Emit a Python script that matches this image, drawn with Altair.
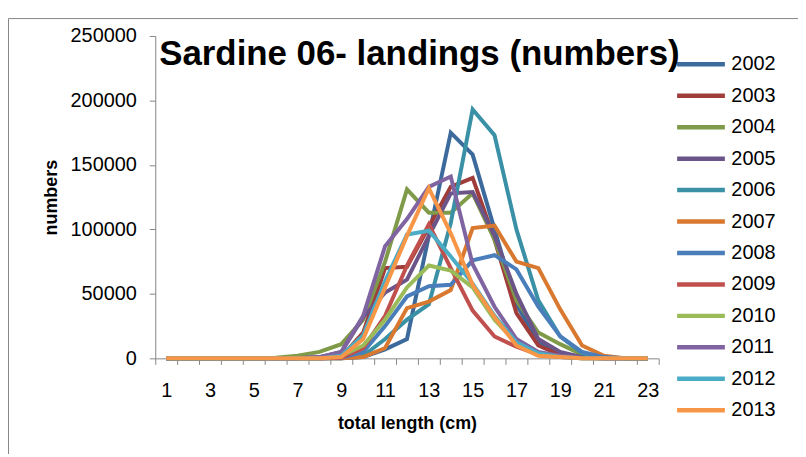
import altair as alt
import pandas as pd

lengths = list(range(1, 24))
years = ["2002", "2003", "2004", "2005", "2006", "2007", "2008", "2009", "2010", "2011", "2012", "2013"]

v2002 = [0,0,0,0,0,0,0,0,0,1000,7000,15000,95000,175000,158000,100000,42000,12000,3000,500,0,0,0]
v2003 = [0,0,0,0,0,0,0,0,1000,20000,70000,71000,102000,133000,140000,92000,35000,10000,2500,500,0,0,0]
v2004 = [0,0,0,0,0,500,2000,5000,11000,30000,75000,131000,113000,113000,128000,92000,45000,20000,11000,3000,500,0,0]
v2005 = [0,0,0,0,0,0,0,1000,5000,32000,51000,61000,95000,128000,129000,95000,50000,15000,5000,1000,0,0,0]
v2006 = [0,0,0,0,0,0,0,0,0,2000,15000,30000,42000,105000,193000,173000,100000,45000,17000,4000,500,0,0]
v2007 = [0,0,0,0,0,0,0,0,0,1000,8000,39000,44000,53000,101000,103000,75000,70000,38000,10000,2000,0,0]
v2008 = [0,0,0,0,0,0,0,0,500,5000,25000,48000,56000,57000,76000,80000,69000,40000,17000,5000,1000,0,0]
v2009 = [0,0,0,0,0,0,0,0,500,8000,33000,72000,104000,70000,37000,17000,9000,3000,1000,0,0,0,0]
v2010 = [0,0,0,0,0,0,0,0,2000,10000,30000,55000,72000,68000,55000,30000,12000,4000,1500,0,0,0,0]
v2011 = [0,0,0,0,0,0,0,1000,5000,33000,87000,108000,133000,141000,73000,40000,15000,5000,2000,500,0,0,0]
v2012 = [0,0,0,0,0,0,0,0,2000,18000,60000,96000,99000,79000,58000,33000,12500,4000,1000,0,0,0,0]
v2013 = [0,0,0,0,0,0,0,0,1000,15000,55000,95000,132000,97000,57000,32000,10000,2000,1000,0,0,0,0]

series = [v2002, v2003, v2004, v2005, v2006, v2007, v2008, v2009, v2010, v2011, v2012, v2013]
colors = ["#3D6A9C", "#A03C39", "#7F9A48", "#6B5488", "#3A91A6", "#D9782F",
          "#4A7EBB", "#C0504D", "#9BBB59", "#8064A2", "#4BACC6", "#F79646"]

rows = []
for y, vals in zip(years, series):
    for L, v in zip(lengths, vals):
        rows.append({"length": L, "year": y, "numbers": v})
df = pd.DataFrame(rows)

W, H = 506, 324
FONT = "Liberation Sans"

lines = alt.Chart(df).mark_line(strokeWidth=4, strokeJoin="miter").encode(
    x=alt.X("length:O", scale=alt.Scale(type="band", paddingInner=0, paddingOuter=0),
            axis=alt.Axis(title="total length (cm)", labelAngle=0, tickBand="extent",
                          labelExpr="datum.value % 2 == 1 ? datum.label : ''",
                          domainColor="#868686", tickColor="#868686", tickSize=6,
                          labelPadding=16, labelFontSize=20, labelFont=FONT, labelColor="#000",
                          titleFont=FONT, titleFontSize=18, titleFontWeight="bold",
                          titleColor="#000", titlePadding=14, grid=False)),
    y=alt.Y("numbers:Q", scale=alt.Scale(domain=[0, 250000], nice=False),
            axis=alt.Axis(title="numbers", values=[0, 50000, 100000, 150000, 200000, 250000],
                          format="d", domainColor="#868686", tickColor="#868686", tickSize=6,
                          labelPadding=13, labelFontSize=20, labelFont=FONT, labelColor="#000",
                          titleFont=FONT, titleFontSize=18, titleFontWeight="bold",
                          titleColor="#000", titlePadding=10, grid=False)),
    color=alt.Color("year:N", scale=alt.Scale(domain=years, range=colors),
                    legend=alt.Legend(title=None, orient="none", legendX=536, legendY=16,
                                      symbolType="M-2.4,0H2.4", symbolSize=400,
                                      symbolStrokeWidth=4.5,
                                      labelFontSize=20, labelFont=FONT, labelColor="#000",
                                      labelOffset=18, rowPadding=8.6)),
    order=alt.Order("year:N"),
)

border = alt.Chart(alt.Data(values=[{}])).mark_rect(
    filled=False, stroke="#868686", strokeWidth=1
).encode(
    x=alt.value(-147.5), x2=alt.value(W + 300),
    y=alt.value(-17.5), y2=alt.value(H + 300),
)

chart = alt.layer(border, lines).properties(
    width=W, height=H,
    title=alt.TitleParams("Sardine 06- landings (numbers)", anchor="start", frame="group",
                          font=FONT, fontSize=35, fontWeight="bold",
                          color="#000", baseline="alphabetic", dx=4, dy=42, offset=-40),
    autosize=alt.AutoSizeParams(type="none"),
    padding={"left": 148, "top": 27, "right": 140, "bottom": 95},
).configure_view(stroke=None)

chart.save("out.html", embed_options={"renderer": "svg", "actions": False})
